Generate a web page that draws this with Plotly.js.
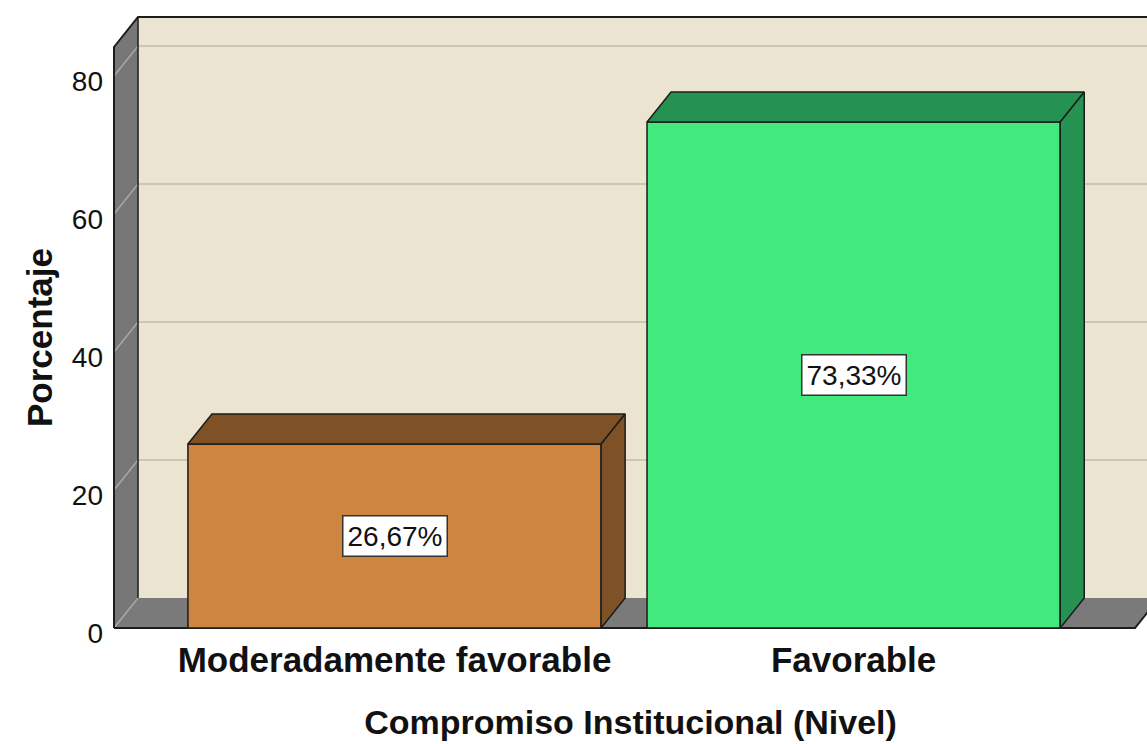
<!DOCTYPE html>
<html><head><meta charset="utf-8">
<script src="https://cdn.plot.ly/plotly-3.0.1.min.js"></script>
<style>html,body{margin:0;padding:0;background:#fff}#chart{width:1147px;height:744px}</style>
</head><body><div id="chart"></div>
<script>
// ---- data ----
const categories = ["Moderadamente favorable", "Favorable"];
const percentages = [26.67, 73.33];
const yTickValues = [0, 20, 40, 60, 80];
const xAxisTitle = "Compromiso Institucional (Nivel)";
const yAxisTitle = "Porcentaje";

// ---- styles ----
const frontColors = ["#CD853F", "#42E97C"];
const darkColors = ["#7F5127", "#269252"];
const edgeColor = "#1c1c1c";
const FONT = "Liberation Sans, Arial, sans-serif";

// ---- geometry ----
const W = 1147, H = 744;
const M = {l: 114, r: 0, t: 47, b: 116, pad: 0};
const plotW = W - M.l - M.r;
const plotH = H - M.t - M.b;
const X_RANGE = [-0.611, 1.639];
const Y_MAX = 84.2;
const BAR_W = 0.9;
const DEPTH_PX = {x: 24, y: 30};
const pxPerX = plotW / (X_RANGE[1] - X_RANGE[0]);
const pxPerY = plotH / Y_MAX;
const DX = DEPTH_PX.x / pxPerX;   // depth offset, x data units
const DY = DEPTH_PX.y / pxPerY;   // depth offset, y data units
const dxp = DEPTH_PX.x / plotW;   // depth offset, paper units
const dyp = DEPTH_PX.y / plotH;
const FLOOR_RIGHT = (1135 - M.l) / plotW;

const xIdx = categories.map((c, i) => i);

// ---- walls & floor (decoration) ----
const shapes = [];
const P = {xref: 'paper', yref: 'paper', layer: 'below'};
// back wall
shapes.push(Object.assign({}, P, {type: 'rect', x0: dxp, x1: 1 + 2 * dxp, y0: dyp, y1: 1 + dyp,
  fillcolor: '#EAE4D0', line: {width: 0}}));
// floor
shapes.push(Object.assign({}, P, {type: 'path',
  path: `M 0 0 L ${FLOOR_RIGHT} 0 L ${FLOOR_RIGHT + dxp} ${dyp} L ${dxp} ${dyp} Z`,
  fillcolor: '#7a7a7a', line: {width: 0}}));
// left wall
shapes.push(Object.assign({}, P, {type: 'path',
  path: `M 0 0 L 0 1 L ${dxp} ${1 + dyp} L ${dxp} ${dyp} Z`,
  fillcolor: '#777777', line: {width: 0}}));
// gridlines
yTickValues.forEach(v => {
  const yp = v / Y_MAX;
  if (v > 0) {
    shapes.push(Object.assign({}, P, {type: 'line', x0: dxp, x1: 1 + 2 * dxp, y0: yp + dyp, y1: yp + dyp,
      line: {color: '#CBC6B7', width: 2}}));
  }
  shapes.push(Object.assign({}, P, {type: 'line', x0: 0, x1: dxp, y0: yp, y1: yp + dyp,
    line: {color: '#A8A8A8', width: 1.5}}));
});
// dark outlines
shapes.push(Object.assign({}, P, {type: 'path',
  path: `M 0 0 L 0 1 L ${dxp} ${1 + dyp} L 1.05 ${1 + dyp}`,
  line: {color: edgeColor, width: 2}}));
shapes.push(Object.assign({}, P, {type: 'line', x0: dxp, x1: dxp, y0: dyp, y1: 1 + dyp,
  line: {color: edgeColor, width: 1.5}}));
shapes.push(Object.assign({}, P, {type: 'path',
  path: `M 0 0 L ${FLOOR_RIGHT} 0 L ${FLOOR_RIGHT + dxp} ${dyp}`,
  line: {color: edgeColor, width: 2}}));

// ---- traces ----
const traces = [];
traces.push({
  type: 'bar', x: xIdx, y: percentages, width: BAR_W,
  marker: {color: frontColors, line: {color: edgeColor, width: 1.5}},
  hoverinfo: 'none', showlegend: false
});
percentages.forEach((v, i) => {
  const l = xIdx[i] - BAR_W / 2, r = xIdx[i] + BAR_W / 2;
  traces.push({ // top face
    type: 'scatter', mode: 'lines', fill: 'toself', fillcolor: darkColors[i],
    x: [l, r, r + DX, l + DX, l], y: [v, v, v + DY, v + DY, v],
    line: {color: edgeColor, width: 1.5}, hoverinfo: 'none', showlegend: false
  });
  traces.push({ // side face
    type: 'scatter', mode: 'lines', fill: 'toself', fillcolor: darkColors[i],
    x: [r, r + DX, r + DX, r, r], y: [0, DY, v + DY, v, 0],
    line: {color: edgeColor, width: 1.5}, hoverinfo: 'none', showlegend: false
  });
});

const annotations = percentages.map((v, i) => ({
  x: xIdx[i], y: v / 2, xref: 'x', yref: 'y', showarrow: false,
  text: v.toFixed(2).replace('.', ',') + '%',
  font: {family: FONT, size: 28, color: '#111'},
  bgcolor: '#ffffff', bordercolor: '#333', borderwidth: 1.5, borderpad: 4
}));

const layout = {
  width: W, height: H, margin: M,
  paper_bgcolor: '#ffffff', plot_bgcolor: 'rgba(0,0,0,0)',
  showlegend: false, shapes, annotations,
  xaxis: {
    range: X_RANGE, tickvals: xIdx, ticktext: categories, showgrid: false, zeroline: false,
    showline: false, ticks: '', fixedrange: true, ticklabelstandoff: 8,
    tickfont: {family: FONT, size: 35, color: '#111', weight: 'bold'},
    title: {text: xAxisTitle, font: {family: FONT, size: 34, color: '#111', weight: 'bold'}, standoff: 32}
  },
  yaxis: {
    range: [0, Y_MAX], tickvals: yTickValues, showgrid: false, zeroline: false,
    showline: false, ticks: '', fixedrange: true, ticklabelstandoff: 10, ticklabelshift: 5,
    tickfont: {family: FONT, size: 28, color: '#111'},
    title: {text: yAxisTitle, font: {family: FONT, size: 35, color: '#111', weight: 'bold'}, standoff: 8}
  }
};

Plotly.newPlot('chart', traces, layout, {staticPlot: true, displayModeBar: false});
</script>
</body></html>
